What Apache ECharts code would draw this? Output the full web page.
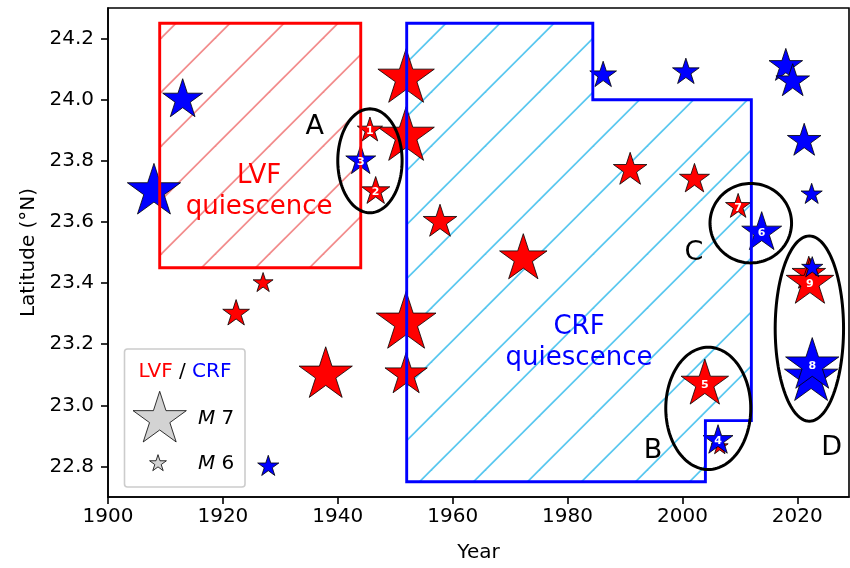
<!DOCTYPE html>
<html><head><meta charset="utf-8">
<script src="https://cdn.jsdelivr.net/npm/echarts@6/dist/echarts.min.js"></script>
<style>html,body{margin:0;padding:0;background:#fff}#c{width:850px;height:568px}</style>
</head><body><div id="c"></div>
<script>
// ---- tick labels ----
const xTicks = [1900, 1920, 1940, 1960, 1980, 2000, 2020];
const yTicks = [22.8, 23.0, 23.2, 23.4, 23.6, 23.8, 24.0, 24.2];

// ---- LVF earthquakes (red) ----
const lvfYear = [1951.9, 1951.9, 1945.6, 1946.6, 1957.8, 1922.3, 1927.0, 1937.9, 1951.9, 1951.9, 1972.3, 1990.9, 2002.1, 2003.9, 2006.5, 2009.7, 2022.0, 2022.2];
const lvfLat  = [24.07, 23.88, 23.90, 23.70, 23.60, 23.30, 23.40, 23.10, 23.27, 23.10, 23.48, 23.77, 23.74, 23.07, 22.865, 23.65, 23.43, 23.40];
const lvfMag  = [7.05, 7.05, 6.35, 6.45, 6.6, 6.4, 6.15, 7.0, 7.1, 6.8, 6.9, 6.6, 6.5, 6.9, 6.0, 6.35, 6.6, 6.9];
const lvfTag  = ['', '', '1', '2', '', '', '', '', '', '', '', '', '', '5', '', '7', '', '9'];

// ---- CRF earthquakes (blue) ----
const crfYear = [1913.0, 1908.0, 1944.0, 1927.9, 1986.2, 2000.6, 2018.0, 2019.2, 2021.2, 2022.5, 2013.8, 2006.2, 2022.6, 2022.4, 2022.6];
const crfLat  = [24.00, 23.70, 23.80, 22.80, 24.08, 24.09, 24.11, 24.06, 23.865, 23.69, 23.565, 22.885, 23.45, 23.09, 23.13];
const crfMag  = [6.75, 7.0, 6.5, 6.2, 6.4, 6.4, 6.6, 6.6, 6.6, 6.2, 6.75, 6.5, 6.2, 7.0, 7.0];
const crfTag  = ['', '', '3', '', '', '', '', '', '', '', '6', '4', '', '', '8'];

// ---- quiescence zones ----
const lvfZoneYear = [1909, 1944, 1944, 1909];
const lvfZoneLat  = [24.25, 24.25, 23.45, 23.45];
const crfZoneYear = [1952, 1984.4, 1984.4, 2012, 2012, 2004, 2004, 1952];
const crfZoneLat  = [24.25, 24.25, 24.0, 24.0, 22.95, 22.95, 22.75, 22.75];

// ---- highlighted groups ----
const grpName = ['A', 'B', 'C', 'D'];
const grpYear = [1945.6, 2004.5, 2011.9, 2022.1];
const grpLat  = [23.80, 22.99, 23.596, 23.251];
const grpHalfYear = [5.6, 7.4, 7.1, 5.95];
const grpHalfLat  = [0.17, 0.20, 0.13, 0.303];
const grpLabelYear = [1936.0, 1994.9, 2002.0, 2026.0];
const grpLabelLat  = [23.91, 22.85, 23.50, 22.86];

const quietText = ['LVF\nquiescence', 'CRF\nquiescence'];
const quietYear = [1926.3, 1982.0];
const quietLat  = [23.70, 23.206];
const quietColor = ['#ff0000', '#0000ff'];

const FONT = 'DejaVu Sans';
function radius(m) { return 28 * Math.pow(10, (m - 7) / 2); }
function starPts(cx, cy, R) {
  const pts = [];
  for (let k = 0; k < 10; k++) {
    const a = -Math.PI / 2 + k * Math.PI / 5;
    const r = k % 2 === 0 ? R : R * 0.381966;
    pts.push([cx + r * Math.cos(a), cy + r * Math.sin(a)]);
  }
  return pts;
}
function hatch(color) {
  const s = 54, c = document.createElement('canvas');
  c.width = s; c.height = s;
  const g = c.getContext('2d');
  g.strokeStyle = color; g.lineWidth = 1.7;
  const off = 37.3 % s;
  for (const k of [-1, 0, 1, 2]) {
    const cc = off + k * s;
    g.beginPath(); g.moveTo(-6, cc + 6); g.lineTo(s + 6, cc - s - 6); g.stroke();
  }
  return { image: c, repeat: 'repeat' };
}

function zoneFill(years, lats, color) {
  const pat = hatch(color);
  return { type: 'custom', z: 1, silent: true, data: [[1950, 23.5]],
    renderItem: (p, api) => ({ type: 'polygon',
      shape: { points: years.map((y, i) => api.coord([y, lats[i]])) },
      style: { fill: pat, stroke: null } }) };
}
function zoneEdge(years, lats, color) {
  return { type: 'custom', z: 3, silent: true, data: [[1950, 23.5]],
    renderItem: (p, api) => ({ type: 'polygon',
      shape: { points: years.map((y, i) => api.coord([y, lats[i]])) },
      style: { fill: 'none', stroke: color, lineWidth: 2.9 } }) };
}
function stars(years, lats, mags, color) {
  return { type: 'custom', z: 2, silent: true,
    data: years.map((y, i) => [y, lats[i], mags[i]]), encode: { x: 0, y: 1 },
    renderItem: (p, api) => {
      const c = api.coord([api.value(0), api.value(1)]);
      return { type: 'polygon', shape: { points: starPts(c[0], c[1], radius(api.value(2))) },
        style: { fill: color, stroke: '#000', lineWidth: 0.8 } };
    } };
}
const tagData = [];
lvfTag.forEach((t, i) => { if (t) tagData.push([lvfYear[i], lvfLat[i], t]); });
crfTag.forEach((t, i) => { if (t) tagData.push([crfYear[i], crfLat[i], t]); });

const chart = echarts.init(document.getElementById('c'), null, { renderer: 'canvas' });
chart.setOption({
  animation: false,
  grid: { left: 108, right: 1, top: 8, bottom: 64, show: true, borderColor: '#000', borderWidth: 1.6, backgroundColor: 'transparent' },
  xAxis: { type: 'value', min: 1900, max: 2029, interval: 20,
    name: 'Year', nameLocation: 'middle', nameGap: 46,
    nameTextStyle: { fontFamily: FONT, fontSize: 20, color: '#000' },
    axisLine: { lineStyle: { color: '#000', width: 1.6 } },
    axisTick: { show: true, inside: false, length: 7, lineStyle: { color: '#000', width: 1.6 }, customValues: xTicks },
    axisLabel: { fontFamily: FONT, fontSize: 20, color: '#000', margin: 10, customValues: xTicks, formatter: v => String(v) },
    splitLine: { show: false } },
  yAxis: { type: 'value', min: 22.7, max: 24.3, interval: 0.1,
    name: 'Latitude (°N)', nameLocation: 'middle', nameGap: 68,
    nameTextStyle: { fontFamily: FONT, fontSize: 20, color: '#000' },
    axisLine: { show: true, lineStyle: { color: '#000', width: 1.6 } },
    axisTick: { show: true, inside: false, length: 7, lineStyle: { color: '#000', width: 1.6 }, customValues: yTicks },
    axisLabel: { fontFamily: FONT, fontSize: 20, color: '#000', margin: 14, customValues: yTicks, formatter: v => v.toFixed(1) },
    splitLine: { show: false } },
  series: [
    zoneFill(lvfZoneYear, lvfZoneLat, '#f28b8b'),
    zoneFill(crfZoneYear, crfZoneLat, '#58c7ef'),
    stars(lvfYear, lvfLat, lvfMag, '#ff0000'),
    stars(crfYear, crfLat, crfMag, '#0000ff'),
    zoneEdge(lvfZoneYear, lvfZoneLat, '#ff0000'),
    zoneEdge(crfZoneYear, crfZoneLat, '#0000ff'),
    { type: 'custom', z: 4, silent: true,
      data: grpName.map((n, i) => [grpYear[i], grpLat[i], i]), encode: { x: 0, y: 1 },
      renderItem: (p, api) => {
        const i = api.value(2), pts = [];
        for (let k = 0; k < 120; k++) {
          const t = k / 120 * 2 * Math.PI;
          pts.push(api.coord([grpYear[i] + grpHalfYear[i] * Math.cos(t), grpLat[i] + grpHalfLat[i] * Math.sin(t)]));
        }
        const lp = api.coord([grpLabelYear[i], grpLabelLat[i]]);
        return { type: 'group', children: [
          { type: 'polygon', shape: { points: pts }, style: { fill: 'none', stroke: '#000', lineWidth: 3 } },
          { type: 'text', x: lp[0], y: lp[1], style: { text: grpName[i], fill: '#000', font: '27px ' + FONT, align: 'center', verticalAlign: 'middle' } }
        ] };
      } },
    { type: 'custom', z: 5, silent: true, data: tagData, encode: { x: 0, y: 1 },
      renderItem: (p, api) => {
        const c = api.coord([api.value(0), api.value(1)]);
        return { type: 'text', x: c[0], y: c[1] + 1, style: { text: tagData[p.dataIndex][2], fill: '#fff', font: 'bold 11px ' + FONT, align: 'center', verticalAlign: 'middle' } };
      } },
    { type: 'custom', z: 5, silent: true, data: quietText.map((t, i) => [quietYear[i], quietLat[i]]), encode: { x: 0, y: 1 },
      renderItem: (p, api) => {
        const c = api.coord([api.value(0), api.value(1)]);
        return { type: 'text', x: c[0], y: c[1], style: { text: quietText[p.dataIndex], fill: quietColor[p.dataIndex], font: '26px ' + FONT, lineHeight: 31, align: 'center', verticalAlign: 'middle' } };
      } }
  ],
  graphic: [
    { type: 'rect', z: 100, shape: { x: 124.5, y: 349, width: 120.5, height: 138, r: 3 }, style: { fill: 'rgba(255,255,255,0.8)', stroke: '#cccccc', lineWidth: 1.6 } },
    { type: 'text', z: 101, x: 185, y: 372, style: { text: '{r|LVF}{k| / }{b|CRF}', align: 'center', verticalAlign: 'middle', font: '20px ' + FONT,
      rich: { r: { fill: '#ff0000', fontSize: 20, fontFamily: FONT }, k: { fill: '#000', fontSize: 20, fontFamily: FONT }, b: { fill: '#0000ff', fontSize: 20, fontFamily: FONT } } } },
    { type: 'polygon', z: 101, shape: { points: starPts(159.7, 419.3, radius(7)) }, style: { fill: '#d3d3d3', stroke: '#000', lineWidth: 0.8 } },
    { type: 'polygon', z: 101, shape: { points: starPts(158, 463.5, radius(6)) }, style: { fill: '#d3d3d3', stroke: '#000', lineWidth: 0.8 } },
    { type: 'text', z: 101, x: 198, y: 419, style: { text: '{i|M}{n| 7}', align: 'left', verticalAlign: 'middle', font: '20px ' + FONT,
      rich: { i: { fontStyle: 'italic', fontSize: 20, fontFamily: FONT, fill: '#000' }, n: { fontSize: 20, fontFamily: FONT, fill: '#000' } } } },
    { type: 'text', z: 101, x: 198, y: 464, style: { text: '{i|M}{n| 6}', align: 'left', verticalAlign: 'middle', font: '20px ' + FONT,
      rich: { i: { fontStyle: 'italic', fontSize: 20, fontFamily: FONT, fill: '#000' }, n: { fontSize: 20, fontFamily: FONT, fill: '#000' } } } }
  ]
});
</script></body></html>
